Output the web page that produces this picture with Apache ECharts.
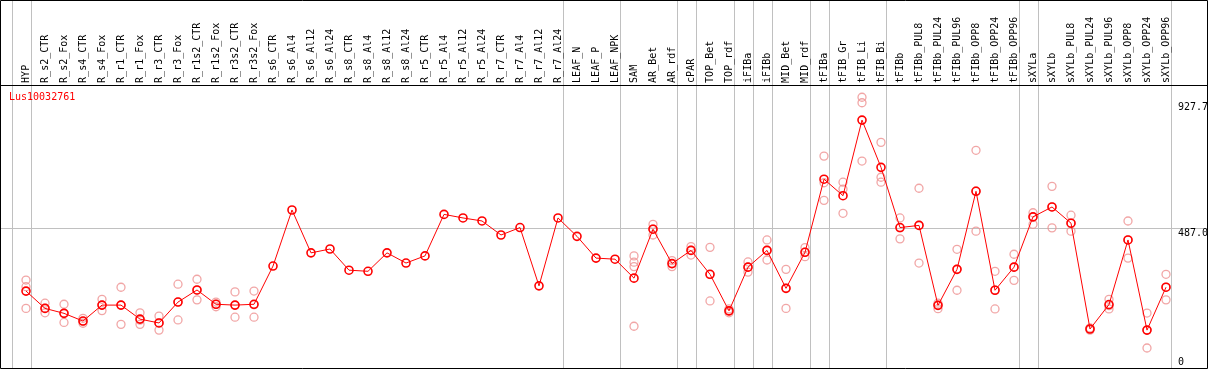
<!DOCTYPE html>
<html><head><meta charset="utf-8">
<script src="https://cdn.jsdelivr.net/npm/echarts@6/dist/echarts.min.js"></script>
<style>html,body{margin:0;padding:0;background:#fff}#c{width:1209px;height:370px}</style>
</head><body><div id="c"></div>
<script>
const geneName = 'Lus10032761';
const categories = ['HYP','R_s2_CTR','R_s2_Fox','R_s4_CTR','R_s4_Fox','R_r1_CTR','R_r1_Fox','R_r3_CTR','R_r3_Fox','R_r1s2_CTR','R_r1s2_Fox','R_r3s2_CTR','R_r3s2_Fox','R_s6_CTR','R_s6_Al4','R_s6_Al12','R_s6_Al24','R_s8_CTR','R_s8_Al4','R_s8_Al12','R_s8_Al24','R_r5_CTR','R_r5_Al4','R_r5_Al12','R_r5_Al24','R_r7_CTR','R_r7_Al4','R_r7_Al12','R_r7_Al24','LEAF_N','LEAF_P','LEAF_NPK','SAM','AR_Bet','AR_rdf','cPAR','TOP_Bet','TOP_rdf','iFIBa','iFIBb','MID_Bet','MID_rdf','tFIBa','tFIB_Gr','tFIB_Li','tFIB_Bi','tFIBb','tFIBb_PUL8','tFIBb_PUL24','tFIBb_PUL96','tFIBb_OPP8','tFIBb_OPP24','tFIBb_OPP96','sXYLa','sXYLb','sXYLb_PUL8','sXYLb_PUL24','sXYLb_PUL96','sXYLb_OPP8','sXYLb_OPP24','sXYLb_OPP96'];
const meanValues = [258,195,177,149,207,207,156,142,218,262,210,207,210,349,553,397,411,334,330,397,360,386,537,524,513,462,489,277,524,457,378,374,305,483,358,406,319,186,345,406,268,399,665,605,880,708,489,497,206,337,621,261,345,528,564,505,120,209,444,116,272];
const replicates = [
 [298,274,195],[214,179,196],[210,144,178],[159,141,148],[228,187,207],[272,137,207],[179,137,152],[167,116,142],[283,153,218],[301,226,261],[218,201,210],[255,163,206],[258,163,208],
 [],[],[],[],[],[],[],[],[],[],[],[],[],[],[],[],[],[],[],
 [386,363,347,130],[501,462,484],[369,347,358],[420,389,407],[417,222,318],[179,193,185],[364,327,345],[444,371,407],[337,195,269],[416,383,400],
 [749,652,588],[654,629,541],[963,943,731],[799,672,654],
 [524,448,488],[632,360,498],[214,194,207],[410,261,338],[770,476,622],[330,193,262],[392,297,345],
 [543,501,527],[639,488,564],[534,476,505],[124,116,120],[228,193,205],[513,378,444],[178,51,116],[319,226,272]
];
const groupEnds = [-1,0,28,31,34,35,37,38,39,41,42,45,52,53,60];
const yTickValues = [0, 487.0, 927.7];
const yTickLabels = ['0','487.0','927.7'];

const FONT = 'DejaVu Sans Mono';
const chart = echarts.init(document.getElementById('c'), null, {renderer:'canvas'});
const repData = [];
replicates.forEach((arr,i)=>arr.forEach(v=>repData.push([i,v])));
chart.setOption({
  animation:false,
  grid:{left:16.5, width:1159, top:84.9, height:283.7},
  xAxis:[
    {type:'category', data:categories, position:'top', boundaryGap:true,
     axisLine:{show:false}, axisTick:{show:false}, splitLine:{show:false},
     axisLabel:{interval:0, rotate:90, margin:2, fontFamily:FONT, fontSize:10, color:'#000', hideOverlap:false, padding:[0,0,4,0]}},
    {type:'value', min:-0.5, max:60.5, show:false}
  ],
  yAxis:{type:'value', min:-24, max:1008, show:false},
  series:[
    {type:'scatter', data:repData, symbol:'circle', symbolSize:8,
     itemStyle:{color:'rgba(0,0,0,0)', borderColor:'#ee9090', borderWidth:1.3}, z:2, silent:true},
    {type:'line', data:meanValues, symbol:'circle', symbolSize:8, showAllSymbol:true,
     lineStyle:{color:'#ff0000', width:1},
     itemStyle:{color:'rgba(0,0,0,0)', borderColor:'#ff0000', borderWidth:1.6}, z:3, silent:true}
  ]
});
const g = [];
groupEnds.forEach(k=>{
  const x = Math.round(chart.convertToPixel({xAxisIndex:1}, k+0.26)) + 0.5;
  g.push({type:'line', shape:{x1:x,y1:0,x2:x,y2:369}, style:{stroke:'#c0c0c0', lineWidth:1}, z:0});
});
const y487 = Math.round(chart.convertToPixel({yAxisIndex:0}, yTickValues[1])) + 0.5;
g.push({type:'line', shape:{x1:0,y1:y487,x2:1208,y2:y487}, style:{stroke:'#c0c0c0', lineWidth:1}, z:0});
g.push({type:'line', shape:{x1:0,y1:85.5,x2:1208,y2:85.5}, style:{stroke:'#000', lineWidth:1}, z:5});
g.push({type:'rect', shape:{x:0.5,y:0.5,width:1207,height:368}, style:{fill:null, stroke:'#000', lineWidth:1}, z:5});
yTickValues.forEach((v,i)=>{
  const y = chart.convertToPixel({yAxisIndex:0}, v) + (i===1 ? 5 : 0);
  g.push({type:'text', x:1178, y:y, style:{text:yTickLabels[i], fill:'#000', font:'10px '+FONT, textAlign:'left', textVerticalAlign:'middle'}, z:6});
});
g.push({type:'text', x:9, y:97, style:{text:geneName, fill:'#ff0000', font:'10px '+FONT, textAlign:'left', textVerticalAlign:'middle'}, z:6});
chart.setOption({graphic:{elements:g}});
</script></body></html>
